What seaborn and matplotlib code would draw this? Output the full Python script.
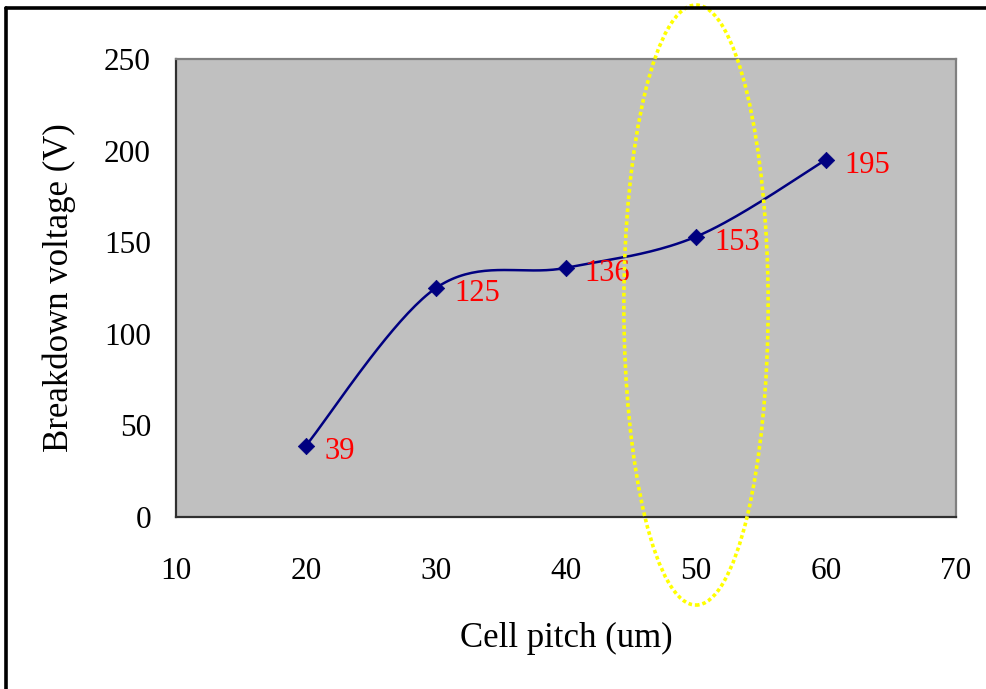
import numpy as np
import pandas as pd
import matplotlib
matplotlib.use("Agg")
import matplotlib.pyplot as plt
from matplotlib.patches import Ellipse
from matplotlib.lines import Line2D
import seaborn as sns

# Measured breakdown voltage versus cell pitch
cell_pitch = [20, 30, 40, 50, 60]
breakdown_v = [39, 125, 136, 153, 195]
value_labels = ["39", "125", "136", "153", "195"]

x_ticks = [10, 20, 30, 40, 50, 60, 70]
y_ticks = [0, 50, 100, 150, 200, 250]


def smooth_curve(xs, ys, n=40):
    """Bezier (Catmull-Rom style) smoothing through every point."""
    p = np.column_stack([xs, ys]).astype(float)
    ext = np.vstack([p[0], p, p[-1]])
    out = []
    for i in range(len(p) - 1):
        p0, p1, p2, p3 = ext[i], ext[i + 1], ext[i + 2], ext[i + 3]
        c1 = p1 + (p2 - p0) / 6.0
        c2 = p2 - (p3 - p1) / 6.0
        t = np.linspace(0, 1, n, endpoint=(i == len(p) - 2))[:, None]
        seg = ((1 - t) ** 3) * p1 + 3 * ((1 - t) ** 2) * t * c1 \
            + 3 * (1 - t) * t ** 2 * c2 + t ** 3 * p2
        out.append(seg)
    return np.vstack(out)


sns.set_theme(style="white")
plt.rcParams["font.family"] = ["Liberation Serif", "DejaVu Serif"]

fig = plt.figure(figsize=(9.87, 6.89), dpi=100)
ax = fig.add_axes([0.1783, 0.2496, 0.7903, 0.6648])
ax.set_facecolor("#C0C0C0")

points = pd.DataFrame({"pitch": cell_pitch, "voltage": breakdown_v})
curve = smooth_curve(cell_pitch, breakdown_v)
curve_df = pd.DataFrame({"pitch": curve[:, 0], "voltage": curve[:, 1]})

sns.lineplot(data=curve_df, x="pitch", y="voltage", ax=ax, sort=False,
             estimator=None, color="#000080", linewidth=1.8, zorder=3)
sns.scatterplot(data=points, x="pitch", y="voltage", ax=ax, marker="D",
                s=70, color="#000080", edgecolor="#000080", linewidth=0.5,
                zorder=4)

for xv, yv, lab in zip(cell_pitch, breakdown_v, value_labels):
    ax.annotate(lab, (xv, yv), xytext=(13.5, -4), textcoords="offset points",
                ha="left", va="center", color="red", fontsize=22)

ax.set_xlim(10, 70)
ax.set_ylim(0, 250)
ax.set_xticks(x_ticks)
ax.set_yticks(y_ticks)
ax.tick_params(axis="x", direction="in", length=7, width=1.2, color="#404040",
               pad=29, labelsize=22.5, labelcolor="black")
ax.tick_params(axis="y", direction="in", length=7, width=1.2, color="#404040",
               pad=18, labelsize=22.5, labelcolor="black")
ax.set_xlabel("Cell pitch (um)", fontsize=25, labelpad=26, color="black")
ax.set_ylabel("Breakdown voltage (V)", fontsize=25, labelpad=20, color="black")

for side in ("left", "bottom"):
    ax.spines[side].set_color("#303030")
    ax.spines[side].set_linewidth(1.6)
for side in ("top", "right"):
    ax.spines[side].set_color("#808080")
    ax.spines[side].set_linewidth(1.6)

# Highlight around the 50 um pitch
ax.add_patch(Ellipse((50, 115.7), width=11.1, height=327.5, fill=False,
                     edgecolor="#FFFF00", linewidth=2.6,
                     linestyle=(0, (1, 0.8)), clip_on=False, zorder=5))

# Outer frame
fig.add_artist(Line2D([0.0061, 0.0061], [0, 0.988], transform=fig.transFigure,
                      color="black", linewidth=2.6))
fig.add_artist(Line2D([0.0061, 1.0], [0.988, 0.988], transform=fig.transFigure,
                      color="black", linewidth=2.6))

fig.savefig("out.png", dpi=100)
